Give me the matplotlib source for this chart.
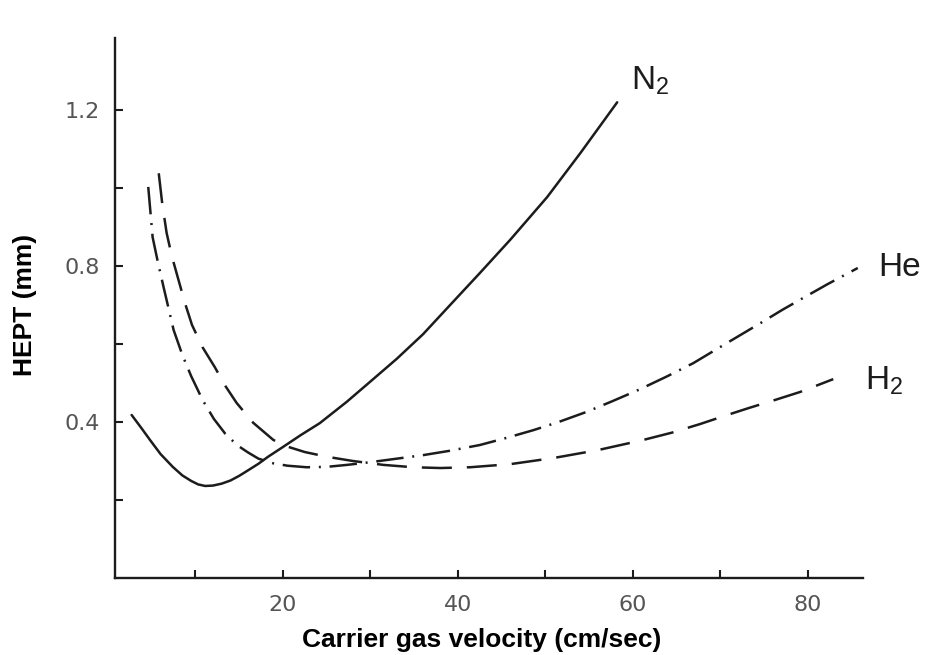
"""HEPT vs carrier gas velocity (van Deemter style curves for N2, He, H2)."""
import matplotlib
matplotlib.use("Agg")
import matplotlib.pyplot as plt

# N2 (solid)
n2_x = [2.7, 3.8, 4.8, 6.0, 7.4, 8.5, 9.5, 10.3, 11.1, 12.0, 13.0, 14.0, 15.0,
        16.0, 17.2, 18.3, 20.0, 22.0, 24.2, 27.3, 30.0, 33.0, 36.0, 39.1,
        42.5, 46.0, 50.2, 54.0, 58.2]
n2_y = [0.418, 0.385, 0.354, 0.318, 0.285, 0.263, 0.249, 0.240, 0.236, 0.237,
        0.242, 0.250, 0.262, 0.276, 0.293, 0.311, 0.336, 0.366, 0.397, 0.452,
        0.504, 0.562, 0.625, 0.700, 0.782, 0.868, 0.977, 1.090, 1.220]

# He (dash-dot)
he_x = [4.6, 5.1, 5.7, 6.3, 7.5, 8.5, 9.5, 10.8, 12.1, 13.4, 14.8, 16.0, 17.2,
        18.9, 20.5, 22.7, 25.0, 27.3, 30.0, 33.0, 36.0, 39.0, 42.5, 45.5,
        48.6, 51.5, 54.7, 57.5, 60.7, 63.8, 66.9, 69.5, 72.2, 74.6, 77.1,
        79.6, 82.2, 85.7]
he_y = [1.003, 0.874, 0.810, 0.751, 0.636, 0.572, 0.518, 0.457, 0.408, 0.370,
        0.340, 0.322, 0.306, 0.294, 0.288, 0.284, 0.285, 0.290, 0.297, 0.306,
        0.315, 0.326, 0.341, 0.359, 0.379, 0.400, 0.426, 0.452, 0.483, 0.516,
        0.551, 0.586, 0.622, 0.654, 0.688, 0.720, 0.753, 0.795]

# H2 (dashed)
h2_x = [5.8, 6.2, 6.7, 7.3, 8.0, 8.8, 9.6, 10.8, 12.2, 13.4, 14.7, 16.6, 18.9,
        20.5, 22.5, 25.0, 28.0, 31.5, 34.9, 38.0, 41.4, 46.0, 51.0, 56.0,
        61.0, 64.5, 67.7, 70.5, 73.4, 76.3, 79.1, 82.9]
h2_y = [1.038, 0.960, 0.885, 0.825, 0.769, 0.705, 0.649, 0.592, 0.541, 0.493,
        0.449, 0.398, 0.354, 0.337, 0.323, 0.311, 0.300, 0.290, 0.284, 0.282,
        0.284, 0.292, 0.308, 0.328, 0.353, 0.373, 0.395, 0.416, 0.437, 0.457,
        0.477, 0.510]

x_ticks = [10, 20, 30, 40, 50, 60, 70, 80]
x_ticklabels = ["", "20", "", "40", "", "60", "", "80"]
y_ticks = [0.2, 0.4, 0.6, 0.8, 1.0, 1.2]
y_ticklabels = ["", "0.4", "", "0.8", "", "1.2"]

LINE = "#1c1c1c"
TICK_TXT = "#555555"


def main():
    plt.rcParams["font.family"] = ["Liberation Sans", "DejaVu Sans"]
    plt.rcParams["mathtext.fontset"] = "custom"
    plt.rcParams["mathtext.rm"] = "Liberation Sans"

    fig = plt.figure(figsize=(9.35, 6.55), dpi=100)
    ax = fig.add_axes([0.123, 0.1176, 0.800, 0.8244])

    ax.plot(n2_x, n2_y, color=LINE, lw=1.8, solid_capstyle="round")
    ax.plot(he_x, he_y, color=LINE, lw=1.8, dashes=(11, 3.5, 0.8, 3.5))
    ax.plot(h2_x, h2_y, color=LINE, lw=1.8, dashes=(12, 6))

    ax.set_xlim(0.8, 86.3)
    ax.set_ylim(0, 1.385)

    for side in ("top", "right"):
        ax.spines[side].set_visible(False)
    for side in ("left", "bottom"):
        ax.spines[side].set_linewidth(1.7)
        ax.spines[side].set_color(LINE)

    ax.set_xticks(x_ticks)
    ax.set_xticklabels(x_ticklabels)
    ax.set_yticks(y_ticks)
    ax.set_yticklabels(y_ticklabels)
    ax.tick_params(direction="in", length=6, width=1.5, color=LINE,
                   labelsize=16, labelcolor=TICK_TXT)
    for lbl in ax.get_xticklabels() + ax.get_yticklabels():
        lbl.set_family(["DejaVu Sans"])
    ax.tick_params(axis="x", pad=12)
    ax.tick_params(axis="y", pad=11)

    ax.set_xlabel("Carrier gas velocity (cm/sec)", fontsize=19,
                  fontweight="bold")
    ax.xaxis.set_label_coords(0.49, -0.093)
    ax.set_ylabel("HEPT (mm)", fontsize=19, fontweight="bold")
    ax.yaxis.set_label_coords(-0.104, 0.506)

    ax.text(59.8, 1.275, r"N$_\mathregular{2}$", fontsize=24, color=LINE,
            ha="left", va="center")
    ax.text(88.0, 0.797, "He", fontsize=24, color=LINE, ha="left",
            va="center", clip_on=False)
    ax.text(86.5, 0.505, r"H$_\mathregular{2}$", fontsize=24, color=LINE,
            ha="left", va="center", clip_on=False)

    fig.savefig("out.png", dpi=100, facecolor="white")


if __name__ == "__main__":
    main()
